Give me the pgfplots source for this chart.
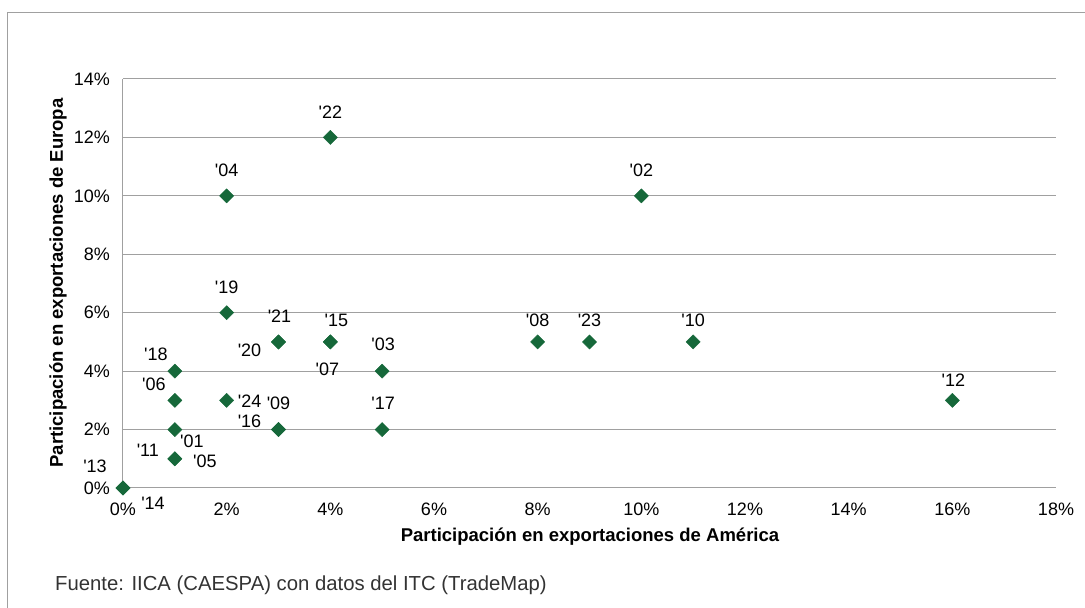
\documentclass[border=0pt]{standalone}
\usepackage{fontspec}
\setmainfont{Liberation Sans}
\newfontfamily\plainfont{Liberation Sans}
\usepackage{pgfplots}
\usepackage{pgfplotstable}
\pgfplotsset{compat=1.18}
\definecolor{mk}{RGB}{22,104,58}
\definecolor{gl}{RGB}{160,160,160}
% columns: x, y, label as dx/dy/text (offset of the label centre in pt)
\pgfplotstableread{
x y lab
1 2 17/-11/'01
10 10 0/26/'02
5 4 1/27/'03
2 10 0/26/'04
1 1 30/-2/'05
1 3 -21/16/'06
4 5 -3/-27/'07
8 5 0/22/'08
3 2 0/27/'09
11 5 0/22/'10
1 1 -27/9/'11
16 3 1/20/'12
0 0 -28/22/'13
0 0 30/-15/'14
4 5 6/22/'15
3 2 -29/9/'16
5 2 1/27/'17
1 4 -19/17/'18
2 6 0/26/'19
3 5 -29/-8/'20
3 5 1/26/'21
4 12 0/25/'22
9 5 0/22/'23
2 3 23/-1/'24
}\datatable
\def\shiftlabel#1/#2/#3\relax{\raisebox{\dimexpr#2pt-0.36em\relax}[0pt][0pt]{\makebox[0pt]{\hspace*{#1pt}\hspace*{#1pt}#3}}}
\begin{document}
\begin{tikzpicture}
\useasboundingbox (-123pt,-120pt) rectangle (962pt,488pt);
\draw[gl, line width=1pt] (-115pt,-130pt) -- (-115pt,475pt) -- (975pt,475pt);
\begin{axis}[
  at={(0,0)}, anchor=south west,
  scale only axis, width=933pt, height=409pt,
  xmin=0, xmax=18, ymin=0, ymax=14,
  xtick={0,2,...,18}, ytick={0,2,...,14},
  axis lines*=left,
  axis line style={gl, line width=1pt},
  ymajorgrids, grid style={gl, line width=1pt},
  major tick length=0pt,
  /pgf/number format/assume math mode=true,
  xticklabel={\pgfmathprintnumber{\tick}\%},
  yticklabel={\pgfmathprintnumber{\tick}\%},
  tick label style={font=\fontsize{18}{21}\selectfont, inner sep=0pt},
  xticklabel style={anchor=center, yshift=-21pt},
  yticklabel style={anchor=east, xshift=-13pt},
  clip=false,
]
\addplot[only marks, mark=square*, mark size=5pt,
  mark options={rotate=45, fill=mk, draw=mk},
  point meta=explicit symbolic,
  nodes near coords={\expandafter\shiftlabel\pgfplotspointmeta\relax},
  every node near coord/.append style={anchor=center, inner sep=0pt,
    text=black, font=\plainfont\fontsize{18}{21}\selectfont},
] table[x=x, y=y, meta=lab] {\datatable};
\end{axis}
\node[rotate=90, font=\bfseries\fontsize{18.5}{22}\selectfont] at (-65pt,205pt) {Participación en exportaciones de Europa};
\node[font=\bfseries\fontsize{18.5}{22}\selectfont] at (467pt,-49pt) {Participación en exportaciones de América};
\node[anchor=west, inner sep=0pt, text=black!80, font=\fontsize{20.3}{24}\selectfont] at (-68pt,-97pt) {Fuente: IICA (CAESPA) con datos del ITC (TradeMap)};
\end{tikzpicture}
\end{document}
